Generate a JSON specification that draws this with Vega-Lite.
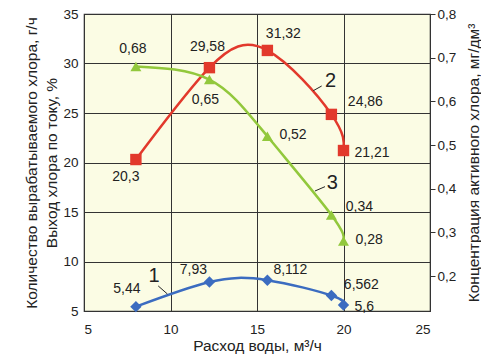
{
  "$schema": "https://vega.github.io/schema/vega-lite/v6.json",
  "width": 346,
  "height": 297,
  "autosize": {"type": "none"},
  "padding": {"left": 84, "top": 14, "right": 51, "bottom": 44},
  "background": "white",
  "config": {
    "font": "Liberation Sans",
    "view": {"fill": "#fbfce4", "stroke": "#333333", "strokeWidth": 1.2},
    "axis": {"labelFont": "Liberation Sans", "titleFont": "Liberation Sans", "labelColor": "#222222", "titleColor": "#222222", "labelFontSize": 13.5, "titleFontSize": 15.5, "titleFontWeight": "normal", "domain": false, "gridColor": "#333333", "gridOpacity": 1, "gridWidth": 1},
    "text": {"font": "Liberation Sans", "fontSize": 14, "color": "#222222"}
  },
  "datasets": {
    "main": [
      {"series": "1", "x": 8, "y": 5.44, "label": "5,44"},
      {"series": "1", "x": 12.25, "y": 7.93, "label": "7,93"},
      {"series": "1", "x": 15.6, "y": 8.112, "label": "8,112"},
      {"series": "1", "x": 19.3, "y": 6.562, "label": "6,562"},
      {"series": "1", "x": 20, "y": 5.6, "label": "5,6"},
      {"series": "2", "x": 8, "y": 20.3, "label": "20,3"},
      {"series": "2", "x": 12.25, "y": 29.58, "label": "29,58"},
      {"series": "2", "x": 15.6, "y": 31.32, "label": "31,32"},
      {"series": "2", "x": 19.3, "y": 24.86, "label": "24,86"},
      {"series": "2", "x": 20, "y": 21.21, "label": "21,21"}
    ],
    "green": [
      {"series": "3", "x": 8, "y": 0.68, "label": "0,68"},
      {"series": "3", "x": 12.25, "y": 0.65, "label": "0,65"},
      {"series": "3", "x": 15.6, "y": 0.52, "label": "0,52"},
      {"series": "3", "x": 19.3, "y": 0.34, "label": "0,34"},
      {"series": "3", "x": 20, "y": 0.28, "label": "0,28"}
    ],
    "tags": [
      {"name": "1", "x": 9.05, "y": 8.5},
      {"name": "2", "x": 19.25, "y": 28.2},
      {"name": "3", "x": 19.35, "y": 17.95}
    ],
    "leaders": [
      {"name": "1", "x": 9.29, "y": 7.53, "x2": 9.82, "y2": 6.72},
      {"name": "2", "x": 18.74, "y": 27.73, "x2": 18.25, "y2": 27.25},
      {"name": "3", "x": 18.93, "y": 17.56, "x2": 18.35, "y2": 17.12}
    ]
  },
  "resolve": {"scale": {"y": "independent"}},
  "layer": [
    {
      "encoding": {
        "x": {"field": "x", "type": "quantitative", "scale": {"domain": [5, 25], "nice": false}, "axis": {"values": [5, 10, 15, 20, 25], "ticks": false, "labelPadding": 11, "title": "Расход воды, м³/ч", "titlePadding": 3, "grid": true}},
        "y": {"field": "y", "type": "quantitative", "scale": {"domain": [5, 35], "nice": false}, "axis": {"values": [5, 10, 15, 20, 25, 30, 35], "ticks": false, "labelPadding": 6, "grid": true, "title": ["Количество вырабатываемого хлора, г/ч", "Выход хлора  по току, %"], "titleLineHeight": 20, "titlePadding": 3}}
      },
      "layer": [
        {"data": {"name": "main"}, "mark": {"type": "line", "interpolate": "natural", "strokeWidth": 2.5}, "encoding": {"detail": {"field": "series"}, "color": {"field": "series", "type": "nominal", "scale": {"domain": ["1", "2", "3"], "range": ["#3b6cc0", "#e2392c", "#92c83c"]}, "legend": null}}},
        {"data": {"name": "main"}, "mark": {"type": "point", "filled": true, "opacity": 1, "size": 130}, "encoding": {"color": {"field": "series", "type": "nominal", "legend": null}, "shape": {"field": "series", "type": "nominal", "scale": {"domain": ["1", "2", "3"], "range": ["diamond", "square", "triangle-up"]}, "legend": null}}},
        {"data": {"name": "main"}, "transform": [{"filter": "datum.label == '5,44'"}], "mark": {"type": "text", "dx": -9, "dy": -18}, "encoding": {"text": {"field": "label"}}},
        {"data": {"name": "main"}, "transform": [{"filter": "datum.label == '7,93'"}], "mark": {"type": "text", "dx": -16, "dy": -12}, "encoding": {"text": {"field": "label"}}},
        {"data": {"name": "main"}, "transform": [{"filter": "datum.label == '8,112'"}], "mark": {"type": "text", "dx": 23, "dy": -10}, "encoding": {"text": {"field": "label"}}},
        {"data": {"name": "main"}, "transform": [{"filter": "datum.label == '6,562'"}], "mark": {"type": "text", "dx": 30, "dy": -11}, "encoding": {"text": {"field": "label"}}},
        {"data": {"name": "main"}, "transform": [{"filter": "datum.label == '5,6' || datum.label == '21,21'"}], "mark": {"type": "text", "align": "left", "dx": 11, "dy": 2}, "encoding": {"text": {"field": "label"}}},
        {"data": {"name": "main"}, "transform": [{"filter": "datum.label == '20,3'"}], "mark": {"type": "text", "dx": -10, "dy": 17}, "encoding": {"text": {"field": "label"}}},
        {"data": {"name": "main"}, "transform": [{"filter": "datum.label == '29,58'"}], "mark": {"type": "text", "dx": -2, "dy": -21}, "encoding": {"text": {"field": "label"}}},
        {"data": {"name": "main"}, "transform": [{"filter": "datum.label == '31,32'"}], "mark": {"type": "text", "dx": 16, "dy": -16}, "encoding": {"text": {"field": "label"}}},
        {"data": {"name": "main"}, "transform": [{"filter": "datum.label == '24,86'"}], "mark": {"type": "text", "dx": 34, "dy": -12}, "encoding": {"text": {"field": "label"}}},
        {"data": {"name": "tags"}, "mark": {"type": "text", "fontSize": 20}, "encoding": {"text": {"field": "name"}}},
        {"data": {"name": "leaders"}, "mark": {"type": "rule", "color": "#222222", "strokeWidth": 1}, "encoding": {"x2": {"field": "x2"}, "y2": {"field": "y2"}}}
      ]
    },
    {
      "data": {"name": "green"},
      "encoding": {
        "x": {"field": "x", "type": "quantitative", "scale": {"domain": [5, 25], "nice": false}},
        "y": {"field": "y", "type": "quantitative", "scale": {"domain": [0.12, 0.8], "nice": false, "zero": false}, "axis": {"orient": "right", "values": [0.2, 0.3, 0.4, 0.5, 0.6, 0.7, 0.8], "labelExpr": "replace(format(datum.value, '.1f'), '.', ',')", "grid": false, "ticks": true, "tickSize": 5, "tickColor": "#333333", "labelPadding": 2, "title": "Концентрация активного хлора, мг/дм³", "titleAngle": -90, "titlePadding": 26}}
      },
      "layer": [
        {"mark": {"type": "line", "interpolate": "natural", "strokeWidth": 2.5, "color": "#92c83c"}},
        {"mark": {"type": "point", "shape": "triangle-up", "filled": true, "opacity": 1, "size": 120, "color": "#92c83c"}},
        {"transform": [{"filter": "datum.label == '0,68'"}], "mark": {"type": "text", "dx": -3, "dy": -17}, "encoding": {"text": {"field": "label"}}},
        {"transform": [{"filter": "datum.label == '0,65'"}], "mark": {"type": "text", "dx": -4, "dy": 20}, "encoding": {"text": {"field": "label"}}},
        {"transform": [{"filter": "datum.label == '0,52' || datum.label == '0,28'"}], "mark": {"type": "text", "align": "left", "dx": 12, "dy": -1}, "encoding": {"text": {"field": "label"}}},
        {"transform": [{"filter": "datum.label == '0,34'"}], "mark": {"type": "text", "dx": 28, "dy": -8}, "encoding": {"text": {"field": "label"}}}
      ]
    }
  ]
}
